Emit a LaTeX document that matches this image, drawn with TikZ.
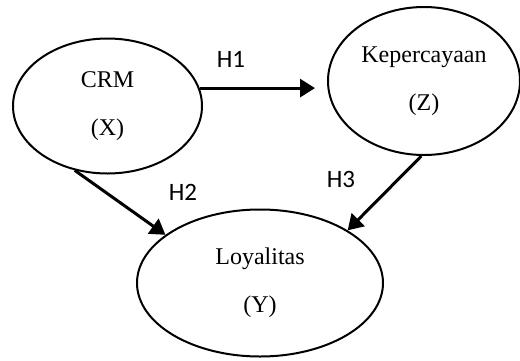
\documentclass[tikz,border=0pt]{standalone}
\usepackage{fontspec}
\setmainfont{Liberation Serif}
\newfontfamily\hypfont{Carlito}
\usetikzlibrary{shapes.geometric,arrows.meta}

\begin{document}
\begin{tikzpicture}[x=0.5pt, y=-0.5pt,
    >={Triangle[length=7.5pt,width=9pt]},
    var/.style={ellipse, draw, line width=1pt, inner sep=0pt, align=center,
      font=\fontsize{12}{24}\selectfont},
    path/.style={->, line width=1.5pt},
    hyp/.style={font=\hypfont\fontsize{12.5}{14}\selectfont}]
  \useasboundingbox (0,0) rectangle (520,360);

  % Variables
  \node[var, minimum width=94.5pt, minimum height=67.5pt] (crm) at (107.5,106) {CRM\\(X)};
  \node[var, minimum width=96pt, minimum height=74pt] (trust) at (424,81) {Kepercayaan\\(Z)};
  \node[var, minimum width=123pt, minimum height=73.5pt] (loyal) at (260,283) {Loyalitas\\(Y)};

  % Hypotheses
  \draw[path, shorten >=6pt] (crm.11) -- (crm.11 -| trust.west);
  \draw[path] (crm.243) -- (loyal.153);
  \draw[path] (trust.268) -- (loyal.31);

  \node[hyp] (h1) at (231,59) {H1};
  \node[hyp] (h2) at (183,192) {H2};
  \node[hyp] (h3) at (341,179) {H3};
\end{tikzpicture}
\end{document}
